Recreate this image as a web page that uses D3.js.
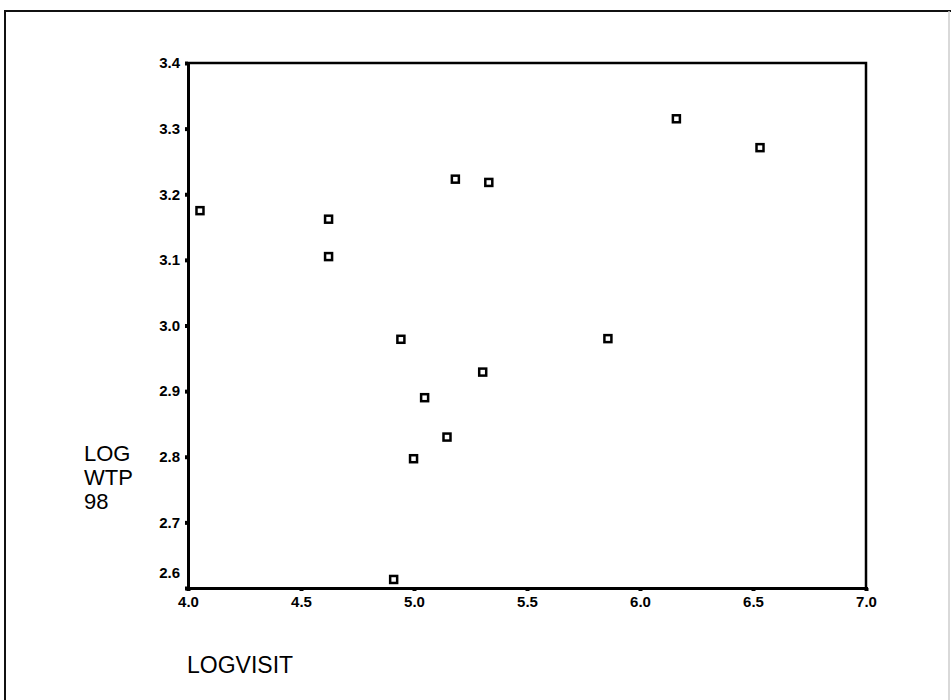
<!DOCTYPE html>
<html lang="en">

<head>
    <meta charset="UTF-8">
    <title>LOGVISIT vs LOG WTP 98</title>
    <style>
        * {
            margin: 0;
            padding: 0;
        }

        html,
        body {
            overflow: hidden;
            background: #fff;
        }
    </style>
</head>

<body>
    <div id="chart"></div>
    <script src="https://cdn.jsdelivr.net/npm/d3@7"></script>
    <script>
        // data
        const logVisit = [4.053, 4.622, 4.622, 5.183, 5.331, 4.942, 5.304, 5.047, 5.146, 4.998, 4.910, 5.858, 6.161, 6.531]
        const logWtp98 = [3.175, 3.162, 3.105, 3.223, 3.218, 2.979, 2.929, 2.890, 2.830, 2.797, 2.613, 2.980, 3.315, 3.271]
        const xTicks = [4.0, 4.5, 5.0, 5.5, 6.0, 6.5, 7.0]
        const yTicks = [2.6, 2.7, 2.8, 2.9, 3.0, 3.1, 3.2, 3.3, 3.4]

        function drawChart() {
            const width = 951
            const height = 700
            const font = '"Liberation Sans", Arial, sans-serif'

            const svg = d3.select('#chart')
                .append('svg')
                .attr('width', width)
                .attr('height', height)
                .style('background-color', '#fff')

            // page frame
            svg.append('path')
                .attr('d', 'M5,700 V11 H951')
                .attr('fill', 'none')
                .attr('stroke', '#111')
                .attr('stroke-width', 2)
            svg.append('line')
                .attr('x1', 949).attr('x2', 949)
                .attr('y1', 11).attr('y2', 700)
                .attr('stroke', '#ccc')
                .attr('stroke-width', 1.5)

            const left = 188, right = 866, top = 63, bottom = 588

            const x = d3.scaleLinear().domain([4, 7]).range([left, right])
            const y = d3.scaleLinear().domain([2.6, 3.4]).range([bottom, top])

            // plot box (top and right)
            svg.append('path')
                .attr('d', `M${left},${top} H${right} V${bottom}`)
                .attr('fill', 'none')
                .attr('stroke', '#000')
                .attr('stroke-width', 2.5)

            const xAxis = svg.append('g')
                .attr('transform', `translate(0, ${bottom})`)
                .call(d3.axisBottom(x).tickValues(xTicks).tickFormat(d3.format('.1f')).tickSize(3).tickPadding(5))

            const yAxis = svg.append('g')
                .attr('transform', `translate(${left}, 0)`)
                .call(d3.axisLeft(y).tickValues(yTicks).tickFormat(d3.format('.1f')).tickSize(3).tickPadding(5))

            for (const g of [xAxis, yAxis]) {
                g.select('.domain').attr('stroke', '#000').attr('stroke-width', 3)
                g.selectAll('.tick line').attr('stroke', '#000').attr('stroke-width', 4)
                g.selectAll('.tick text')
                    .attr('fill', '#000')
                    .style('font-family', font)
                    .style('font-size', '15px')
                    .style('font-weight', 'bold')
            }

            // bottom y label sits a little higher, clear of the x labels
            yAxis.selectAll('.tick')
                .filter(d => d === 2.6)
                .select('text')
                .attr('dy', '-0.7em')

            // points
            svg.append('g')
                .selectAll('rect')
                .data(logVisit.map((v, i) => [v, logWtp98[i]]))
                .join('rect')
                .attr('x', d => x(d[0]) - 3.5)
                .attr('y', d => y(d[1]) - 3.5)
                .attr('width', 7)
                .attr('height', 7)
                .attr('fill', '#fff')
                .attr('stroke', '#000')
                .attr('stroke-width', 2.5)

            // axis titles
            const yTitle = svg.append('text')
                .attr('x', 84)
                .attr('y', 461)
                .style('font-family', font)
                .style('font-size', '22px')
                .attr('fill', '#000')
            yTitle.selectAll('tspan')
                .data(['LOG', 'WTP', '98'])
                .join('tspan')
                .attr('x', 84)
                .attr('dy', (d, i) => i === 0 ? 0 : 24)
                .text(d => d)

            svg.append('text')
                .attr('x', 187)
                .attr('y', 673)
                .style('font-family', font)
                .style('font-size', '23px')
                .attr('fill', '#000')
                .text('LOGVISIT')
        }

        drawChart()
    </script>
</body>

</html>
